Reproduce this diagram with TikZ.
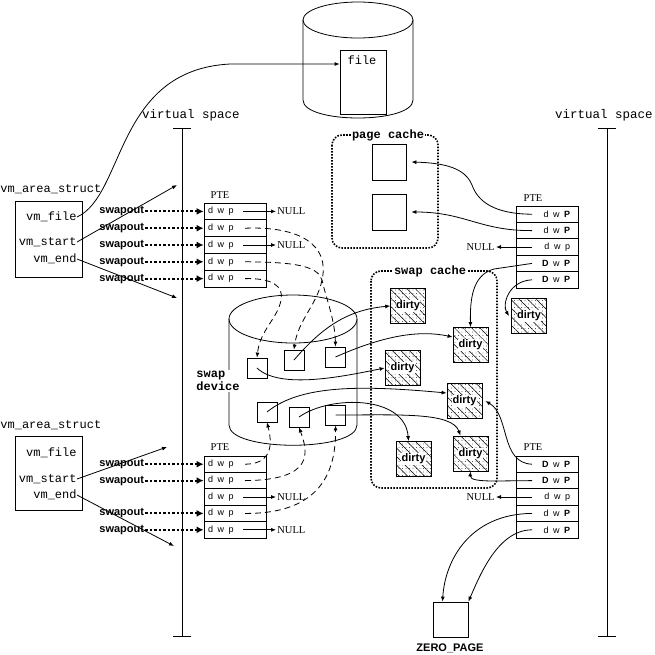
\documentclass[tikz,border=0pt]{standalone}
\usepackage{fontspec}
\setmainfont{Liberation Serif}
\setsansfont{Liberation Sans}
\setmonofont{Liberation Mono}
\usetikzlibrary{arrows.meta}
\usetikzlibrary{patterns.meta}

\begin{document}
\begin{tikzpicture}[x=1pt,y=-1pt,line width=0.8pt,
    >={Latex[length=5pt,width=4pt]},
    mono/.style={font=\fontsize{12}{13}\selectfont\ttfamily,inner sep=0pt},
    monob/.style={font=\fontsize{12}{13}\selectfont\ttfamily\bfseries,fill=white,inner sep=1pt},
    rom/.style={font=\fontsize{10.5}{12}\selectfont,inner sep=1pt},
    bsans/.style={font=\fontsize{11}{12}\selectfont\sffamily\bfseries,inner sep=1pt},
    cell/.style={draw,minimum width=62pt,minimum height=16.4pt,inner sep=0pt,font=\fontsize{9}{9}\selectfont\sffamily},
    lcell/.style={cell,text width=54pt,align=left},
    rcell/.style={cell,text width=46pt,align=right},
    pagebox/.style={draw,fill=white,minimum width=34pt,minimum height=36pt},
    slot/.style={draw,fill=white,minimum size=20pt,inner sep=0pt},
    dirty/.style={draw,minimum size=35pt,inner sep=0pt,
        pattern={Lines[angle=-45,distance=6pt,line width=0.5pt]},
        postaction={pattern={Dots[distance=3.5pt,radius=0.45pt]}},
        label={[bsans,fill=white,inner sep=0.5pt]center:dirty}},
    cache/.style={line width=1.6pt,dash pattern=on 1.6pt off 1.4pt,rounded corners=10pt},
    swp/.style={->,line width=2pt,dash pattern=on 2.5pt off 2pt,>={Latex[length=7pt,width=7pt]}},
    dashcon/.style={->,dash pattern=on 6pt off 4pt},
    vline/.style={{Bar[width=18pt]}-{Bar[width=18pt]}}
]
\useasboundingbox (0,0) rectangle (655,654);

% virtual spaces
\node[mono,font=\fontsize{12.5}{14}\selectfont\ttfamily] (vs1) at (191,115) {virtual space};
\draw[vline] (182,128) -- (182,637);
\node[mono,font=\fontsize{12.5}{14}\selectfont\ttfamily,anchor=east] (vs2) at (653,115) {virtual space};
\draw[vline] (607,128) -- (607,637);

% file on disk
\draw (358,20) ellipse [x radius=55pt, y radius=18pt];
\draw (303,20) -- (303,100) .. controls (303,124) and (413,124) .. (413,100) -- (413,20);
\node[draw,minimum width=46pt,minimum height=64pt] (fl) at (363,82) {};
\node[mono] (fln) at (362,60) {file};

% first vm_area_struct
\node[mono,anchor=west] (va1) at (0,189) {vm\_area\_struct};
\node[draw,minimum width=67pt,minimum height=76pt] (vm1) at (48.5,239) {};
\node[mono,anchor=east] (f1) at (77,217) {vm\_file};
\node[mono,anchor=east] (st1) at (77,242) {vm\_start};
\node[mono,anchor=east] (en1) at (77,259) {vm\_end};
\coordinate (vt1) at (177,185);
\coordinate (vb1) at (177,298);
\draw[->] (st1.east) -- (vt1);
\draw[->] (en1.east) -- (vb1);
\draw[->] (f1.east) .. controls (125,195) and (115,70) .. (230,64) -- ([yshift=18pt]fl.west);

% second vm_area_struct
\node[mono,anchor=west] (va2) at (0,425) {vm\_area\_struct};
\node[draw,minimum width=67pt,minimum height=74pt] (vm2) at (48.5,473) {};
\node[mono,anchor=east] (f2) at (77,453) {vm\_file};
\node[mono,anchor=east] (st2) at (77,479) {vm\_start};
\node[mono,anchor=east] (en2) at (77,495) {vm\_end};
\coordinate (vt2) at (167,447);
\coordinate (vb2) at (174,546);
\draw[->] (st2.east) -- (vt2);
\draw[->] (en2.east) -- (vb2);

% left page tables
\node[rom] (ptea) at (220,195) {PTE};
\foreach \i/\y in {1/211.4,2/228.2,3/245,4/261.8,5/278.6}{
    \node[lcell,minimum height=16.8pt] (pa\i) at (235,\y) {d\enspace w\enspace p};
    \node[bsans,anchor=west] (swa\i) at (98,\y) {swapout};
    \draw[swp] (swa\i) -- (pa\i);
}
\node[rom] (pteb) at (220,447) {PTE};
\foreach \i/\y in {1/464.2,2/480.6,3/497,4/513.4,5/529.8}
    \node[lcell] (pb\i) at (235,\y) {d\enspace w\enspace p};
\foreach \i/\y in {1/464.2,2/480.6,4/513.4,5/529.8}{
    \node[bsans,anchor=west] (swb\i) at (98,\y) {swapout};
    \draw[swp] (swb\i) -- (pb\i);
}
\node[rom,anchor=west] (n1) at (276,211.4) {NULL};
\node[rom,anchor=west] (n2) at (276,245) {NULL};
\node[rom,anchor=west] (n3) at (276,497) {NULL};
\node[rom,anchor=west] (n4) at (276,529.8) {NULL};

% right page tables
\node[rom] (ptec) at (533,198) {PTE};
\node[rcell] (pc1) at (547,214.2) {d\enspace w\enspace \textbf{P}};
\node[rcell] (pc2) at (547,230.6) {d\enspace w\enspace \textbf{P}};
\node[rcell] (pc3) at (547,247) {d\enspace w\enspace p};
\node[rcell] (pc4) at (547,263.4) {\textbf{D}\enspace w\enspace \textbf{P}};
\node[rcell] (pc5) at (547,279.8) {\textbf{D}\enspace w\enspace \textbf{P}};
\node[rom] (pted) at (533,447) {PTE};
\node[rcell] (pd1) at (547,464.2) {\textbf{D}\enspace w\enspace \textbf{P}};
\node[rcell] (pd2) at (547,480.6) {\textbf{D}\enspace w\enspace \textbf{P}};
\node[rcell] (pd3) at (547,497) {d\enspace w\enspace p};
\node[rcell] (pd4) at (547,513.4) {d\enspace w\enspace \textbf{P}};
\node[rcell] (pd5) at (547,529.8) {d\enspace w\enspace \textbf{P}};
\node[rom,anchor=east] (n5) at (496,247) {NULL};
\node[rom,anchor=east] (n6) at (496,497) {NULL};

% page cache
\draw[cache] (332,135) rectangle (438,248);
\node[monob] (pcl) at (388,135) {page cache};
\node[pagebox] (pg1) at (389,162) {};
\node[pagebox] (pg2) at (389,212) {};

% swap cache
\draw[cache] (371,271) rectangle (497,488);
\node[monob] (scl) at (430,271) {swap cache};
\node[dirty] (c1) at (408,306) {};
\node[dirty] (c2) at (470.5,345) {};
\node[dirty] (c3) at (402.5,368) {};
\node[dirty] (c4) at (464.5,401) {};
\node[dirty] (c5) at (413.5,459) {};
\node[dirty] (c6) at (470.5,453.5) {};
\node[dirty] (c7) at (529,316) {};

% swap device
\draw (293,319) ellipse [x radius=64pt, y radius=24pt];
\draw (229,319) -- (229,425) .. controls (229,452) and (357,452) .. (357,425) -- (357,319);
\node[monob,align=left,anchor=west] (sdv) at (195,381) {swap\\device};
\node[slot] (sA) at (257,368) {};
\node[slot] (sB) at (294,360) {};
\node[slot] (sC) at (335.5,357) {};
\node[slot] (sD) at (267,412) {};
\node[slot] (sE) at (299,417) {};
\node[slot] (sF) at (335.5,415) {};

% ZERO_PAGE
\node[draw,minimum size=35pt] (zp) at (450.5,619.5) {};
\node[bsans] (zpl) at (450,648) {ZERO\_PAGE};

% left tables to NULL and swap slots
\draw[->] ([xshift=8pt]pa1.center) -- (n1);
\draw[->] ([xshift=8pt]pa3.center) -- (n2);
\draw[dashcon] ([xshift=10pt]pa2.center) .. controls (300,226) and (330,245) .. (322,280) .. controls (317,305) and (298,320) .. (sB.north);
\draw[dashcon] ([xshift=10pt]pa4.center) .. controls (295,262) and (318,266) .. (322,280) .. controls (326,298) and (335,320) .. (sC.north);
\draw[dashcon] ([xshift=10pt]pa5.center) .. controls (272,278) and (284,286) .. (281,300) .. controls (278,318) and (260,330) .. (sA.north);
\draw[->] ([xshift=8pt]pb3.center) -- (n3);
\draw[->] ([xshift=8pt]pb5.center) -- (n4);
\draw[dashcon] ([xshift=10pt]pb1.center) .. controls (268,464) and (274,450) .. (sD.south);
\draw[dashcon] ([xshift=10pt]pb2.center) .. controls (315,480) and (308,452) .. (sE.south);
\draw[dashcon] ([xshift=10pt]pb4.center) .. controls (322,514) and (336,470) .. (sF.south);

% swap slots to swap cache
\draw[->] (sA.center) .. controls (280,390) and (345,376) .. (c3.west);
\draw[->] (sB.center) .. controls (320,330) and (345,310) .. (c1.west);
\draw[->] (sC.center) .. controls (385,335) and (420,330) .. ([yshift=8pt]c2.west);
\draw[->] (sD.center) .. controls (300,385) and (360,385) .. ([yshift=8pt]c4.west);
\draw[->] (sE.center) .. controls (330,395) and (405,395) .. ([xshift=-5pt]c5.north);
\draw[->] (sF.center) .. controls (400,415) and (452,412) .. ([xshift=-10pt]c6.north);

% right tables
\draw[->] ([xshift=-15pt]pc1.center) .. controls (495,214) and (478,202) .. (472,185) .. controls (465,168) and (445,163) .. ([xshift=5pt]pg1.east);
\draw[->] ([xshift=-15pt]pc2.center) .. controls (480,231) and (465,212) .. ([xshift=5pt]pg2.east);
\draw[->] ([xshift=-15pt]pc3.center) -- (n5);
\draw[->] ([xshift=-15pt]pc4.center) -- (494,269) .. controls (472,275) and (470,300) .. (c2.north);
\draw[->] ([xshift=-15pt]pc5.center) .. controls (508,281) and (502,305) .. ([xshift=-2pt]c7.west);
\draw[->] ([xshift=-15pt]pd1.center) .. controls (500,463) and (510,415) .. ([xshift=3pt]c4.east);
\draw[->] ([xshift=-15pt]pd2.center) -- (495,481) .. controls (480,481) and (470,480) .. (c6.south);
\draw[->] ([xshift=-15pt]pd3.center) -- (n6);
\draw[->] ([xshift=-15pt]pd4.center) .. controls (470,514) and (445,560) .. ([xshift=-8pt]zp.north);
\draw[->] ([xshift=-15pt]pd5.center) .. controls (498,530) and (480,575) .. (zp.north east);
\end{tikzpicture}
\end{document}
